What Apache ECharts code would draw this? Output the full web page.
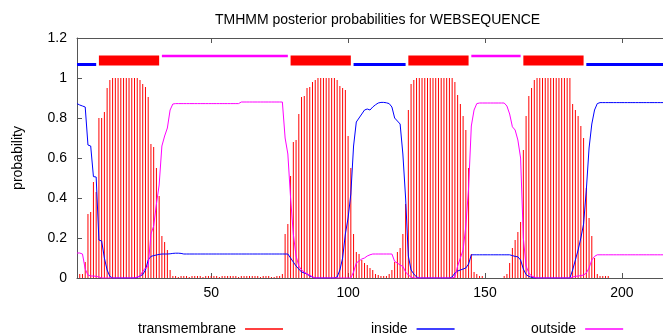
<!DOCTYPE html>
<html>
<head>
<meta charset="utf-8">
<title>TMHMM posterior probabilities</title>
<script src="https://cdn.jsdelivr.net/npm/echarts@6.0.0/dist/echarts.min.js"></script>
<style>
	html, body { margin: 0; padding: 0; background: #fff; }
	#chart { width: 663px; height: 335px; }
</style>
</head>
<body>
<div id="chart"></div>
<script>
// 1 每个残基的后验概率 (residue 1..215)
var tmProb = [
	0, 0.02, 0.02, 0.08, 0.32, 0.33, 0.48, 0.43, 0.80, 0.80,
	0.83, 0.95, 0.99, 1, 1, 1, 1, 1, 1, 1,
	1, 1, 1, 0.99, 0.97, 0.955, 0.905, 0.67, 0.655, 0.55,
	0.41, 0.21, 0.18, 0.14, 0.04, 0.01, 0.01, 0.005, 0.01, 0.01,
	0.01, 0.005, 0.01, 0.01, 0.01, 0.01, 0.005, 0.01, 0.01, 0.01,
	0.01, 0.01, 0.005, 0.01, 0.01, 0.01, 0.01, 0.01, 0.01, 0.005,
	0.01, 0.01, 0.01, 0.01, 0.01, 0.01, 0.01, 0.005, 0.01, 0.01,
	0.01, 0.005, 0.005, 0.01, 0.01, 0.02, 0.22, 0.27, 0.51, 0.68,
	0.69, 0.82, 0.905, 0.91, 0.95, 0.955, 0.98, 0.99, 1, 1,
	1, 1, 1, 1, 1, 0.99, 0.96, 0.95, 0.94, 0.71,
	0.55, 0.22, 0.13, 0.12, 0.09, 0.075, 0.065, 0.05, 0.04, 0.02,
	0.015, 0.01, 0.01, 0.01, 0.02, 0.04, 0.08, 0.13, 0.15, 0.22,
	0.37, 0.84, 0.97, 0.99, 1, 1, 1, 1, 1, 1,
	1, 1, 1, 1, 1, 1, 1, 1, 0.98, 0.915,
	0.87, 0.81, 0.74, 0.55, 0.12, 0.03, 0.02, 0.01, 0.01, 0,
	0, 0, 0, 0, 0, 0, 0.01, 0.02, 0.075, 0.15,
	0.19, 0.23, 0.28, 0.64, 0.81, 0.91, 0.95, 0.99, 1, 1,
	1, 1, 1, 1, 1, 1, 1, 1, 1, 1,
	1, 0.87, 0.84, 0.81, 0.76, 0.70, 0.45, 0.30, 0.21, 0.10,
	0.02, 0.01, 0.01, 0.01, 0.01, 0, 0, 0, 0, 0,
	0, 0, 0, 0, 0, 0, 0, 0, 0, 0,
	0, 0, 0, 0, 0
];
var insideProb = [
	0.872, 0.865, 0.86, 0.855, 0.665, 0.66, 0.507, 0.505, 0.19, 0.185,
	0.10, 0.04, 0.008, 0, 0, 0, 0, 0, 0, 0,
	0, 0, 0.003, 0.01, 0.017, 0.04, 0.09, 0.108, 0.112, 0.115,
	0.118, 0.12, 0.12, 0.12, 0.121, 0.123, 0.124, 0.124, 0.123, 0.12,
	0.12, 0.12, 0.12, 0.12, 0.12, 0.12, 0.12, 0.12, 0.12, 0.12,
	0.12, 0.12, 0.12, 0.12, 0.12, 0.12, 0.12, 0.12, 0.12, 0.12,
	0.12, 0.12, 0.12, 0.12, 0.12, 0.12, 0.12, 0.12, 0.12, 0.12,
	0.12, 0.12, 0.12, 0.12, 0.12, 0.12, 0.12, 0.12, 0.10, 0.08,
	0.06, 0.045, 0.03, 0.025, 0.02, 0.01, 0.005, 0, 0, 0,
	0, 0, 0, 0, 0, 0.005, 0.04, 0.10, 0.22, 0.30,
	0.42, 0.66, 0.78, 0.80, 0.82, 0.84, 0.845, 0.84, 0.855, 0.866,
	0.875, 0.878, 0.878, 0.876, 0.872, 0.855, 0.80, 0.785, 0.77, 0.62,
	0.40, 0.11, 0.04, 0.02, 0.005, 0, 0, 0, 0, 0,
	0, 0, 0, 0, 0, 0, 0, 0.005, 0.025, 0.035,
	0.04, 0.045, 0.05, 0.07, 0.116, 0.116, 0.116, 0.116, 0.116, 0.116,
	0.116, 0.116, 0.116, 0.116, 0.116, 0.116, 0.116, 0.116, 0.116, 0.112,
	0.108, 0.106, 0.09, 0.045, 0.017, 0.008, 0.003, 0, 0, 0,
	0, 0, 0, 0, 0, 0, 0, 0, 0, 0,
	0, 0.04, 0.09, 0.14, 0.20, 0.27, 0.44, 0.65, 0.77, 0.84,
	0.872, 0.877, 0.877, 0.877, 0.877, 0.877, 0.877, 0.877, 0.877, 0.877,
	0.877, 0.877, 0.877, 0.877, 0.877, 0.877, 0.877, 0.877, 0.877, 0.877,
	0.877, 0.877, 0.877, 0.877, 0.877
];
var outsideProb = [
	0.125, 0.125, 0.12, 0.045, 0.015, 0.01, 0.01, 0.008, 0.005, 0,
	0, 0, 0, 0, 0, 0, 0, 0, 0, 0,
	0, 0, 0.005, 0.01, 0.033, 0.05, 0.058, 0.22, 0.26, 0.37,
	0.465, 0.66, 0.71, 0.75, 0.84, 0.87, 0.872, 0.872, 0.872, 0.872,
	0.872, 0.872, 0.872, 0.872, 0.872, 0.872, 0.872, 0.872, 0.872, 0.872,
	0.872, 0.872, 0.872, 0.872, 0.872, 0.872, 0.872, 0.872, 0.872, 0.872,
	0.88, 0.88, 0.88, 0.88, 0.88, 0.88, 0.88, 0.88, 0.88, 0.88,
	0.88, 0.88, 0.88, 0.88, 0.88, 0.88, 0.70, 0.62, 0.40, 0.22,
	0.11, 0.06, 0.04, 0.03, 0.02, 0.015, 0.005, 0, 0, 0,
	0, 0, 0, 0, 0, 0, 0, 0, 0, 0,
	0, 0.03, 0.075, 0.085, 0.095, 0.10, 0.11, 0.116, 0.12, 0.12,
	0.12, 0.12, 0.12, 0.12, 0.12, 0.12, 0.083, 0.075, 0.065, 0.058,
	0.03, 0.015, 0.005, 0, 0, 0, 0, 0, 0, 0,
	0, 0, 0, 0, 0, 0, 0, 0, 0.005, 0.06,
	0.10, 0.14, 0.26, 0.45, 0.76, 0.84, 0.872, 0.875, 0.875, 0.875,
	0.875, 0.875, 0.875, 0.875, 0.875, 0.875, 0.875, 0.86, 0.82, 0.756,
	0.74, 0.69, 0.60, 0.20, 0.06, 0.025, 0.01, 0.005, 0, 0,
	0, 0, 0, 0, 0, 0, 0, 0, 0, 0,
	0, 0.005, 0.008, 0.01, 0.012, 0.015, 0.025, 0.05, 0.09, 0.108,
	0.116, 0.116, 0.116, 0.116, 0.116, 0.116, 0.116, 0.116, 0.116, 0.116,
	0.116, 0.116, 0.116, 0.116, 0.116, 0.116, 0.116, 0.116, 0.116, 0.116,
	0.116, 0.116, 0.116, 0.116, 0.116
];

// 2 预测的拓扑结构 (顶部的横条)
var topoType = ['inside', 'TMhelix', 'outside', 'TMhelix', 'inside', 'TMhelix', 'outside', 'TMhelix', 'inside'];
var topoStart = [1, 9, 32, 79, 102, 122, 145, 164, 187];
var topoEnd = [8, 31, 78, 101, 121, 144, 163, 186, 215];

// 3 坐标轴刻度
var xTicks = [50, 100, 150, 200];
var seqLength = 215;

var FONT = 'Liberation Sans, Arial, sans-serif';
var colors = { TMhelix: '#ff0000', inside: '#0000ff', outside: '#ff00ff' };

function toPairs(arr) {
	return arr.map(function (v, i) { return [i + 1, v]; });
}

function buildTopoSeries() {
	// 每一段拓扑画成一条水平线
	var levels = { inside: 1.068, TMhelix: 1.088, outside: 1.11 };
	var widths = { inside: 3, TMhelix: 10, outside: 2.5 };
	var list = [];
	for (var i = 0; i < topoType.length; i++) {
		var t = topoType[i];
		list.push({
			name: 'topo-' + i,
			type: 'line',
			symbol: 'none',
			silent: true,
			z: 5,
			data: [[topoStart[i], levels[t]], [topoEnd[i], levels[t]]],
			lineStyle: { color: colors[t], width: widths[t], cap: 'butt' },
			itemStyle: { color: colors[t] }
		});
	}
	return list;
}

function makeLegend(name, left) {
	return {
		data: [name],
		left: left,
		top: 317,
		align: 'right',
		icon: 'rect',
		itemWidth: 38,
		itemHeight: 1.5,
		selectedMode: false,
		textStyle: { fontSize: 14, color: '#000', fontFamily: FONT, padding: [0, 4, 0, 0] }
	};
}

var axisLineStyle = { color: '#555', width: 1 };

var option = {
	animation: false,
	title: {
		text: 'TMHMM posterior probabilities for WEBSEQUENCE',
		left: 210,
		top: 8,
		textStyle: { fontSize: 14, fontWeight: 'normal', color: '#000', fontFamily: FONT }
	},
	legend: [
		makeLegend('transmembrane', 133),
		makeLegend('inside', 366),
		makeLegend('outside', 526)
	],
	grid: { left: 77, right: 0, top: 38, bottom: 57 },
	xAxis: [{
		type: 'value',
		min: 1,
		max: seqLength,
		position: 'bottom',
		axisLine: { show: true, lineStyle: axisLineStyle },
		axisTick: { show: true, inside: true, length: 5, customValues: xTicks, lineStyle: axisLineStyle },
		axisLabel: { customValues: xTicks, fontSize: 14, color: '#000', fontFamily: FONT, margin: 8 },
		splitLine: { show: false }
	}, {
		type: 'value',
		min: 1,
		max: seqLength,
		position: 'top',
		axisLine: { show: true, lineStyle: axisLineStyle },
		axisTick: { show: true, inside: true, length: 5, customValues: xTicks, lineStyle: axisLineStyle },
		axisLabel: { show: false },
		splitLine: { show: false }
	}],
	yAxis: {
		type: 'value',
		min: 0,
		max: 1.2,
		interval: 0.2,
		name: 'probability',
		nameLocation: 'middle',
		nameGap: 52,
		nameTextStyle: { fontSize: 14, color: '#000', fontFamily: FONT },
		axisLine: { show: true, lineStyle: axisLineStyle },
		axisTick: { show: true, inside: true, length: 5, lineStyle: axisLineStyle },
		axisLabel: {
			fontSize: 14, color: '#000', fontFamily: FONT, margin: 10,
			formatter: function (v) { return String(Math.round(v * 10) / 10); }
		},
		splitLine: { show: false }
	},
	series: [{
		name: 'transmembrane',
		type: 'bar',
		barWidth: 1,
		itemStyle: { color: colors.TMhelix },
		data: toPairs(tmProb),
		z: 2
	}, {
		name: 'inside',
		type: 'line',
		symbol: 'none',
		lineStyle: { color: colors.inside, width: 1 },
		itemStyle: { color: colors.inside },
		data: toPairs(insideProb),
		z: 3
	}, {
		name: 'outside',
		type: 'line',
		symbol: 'none',
		lineStyle: { color: colors.outside, width: 1 },
		itemStyle: { color: colors.outside },
		data: toPairs(outsideProb),
		z: 4
	}].concat(buildTopoSeries())
};

var myChart = echarts.init(document.getElementById('chart'), null, { renderer: 'canvas' });
myChart.setOption(option);
</script>
</body>
</html>
